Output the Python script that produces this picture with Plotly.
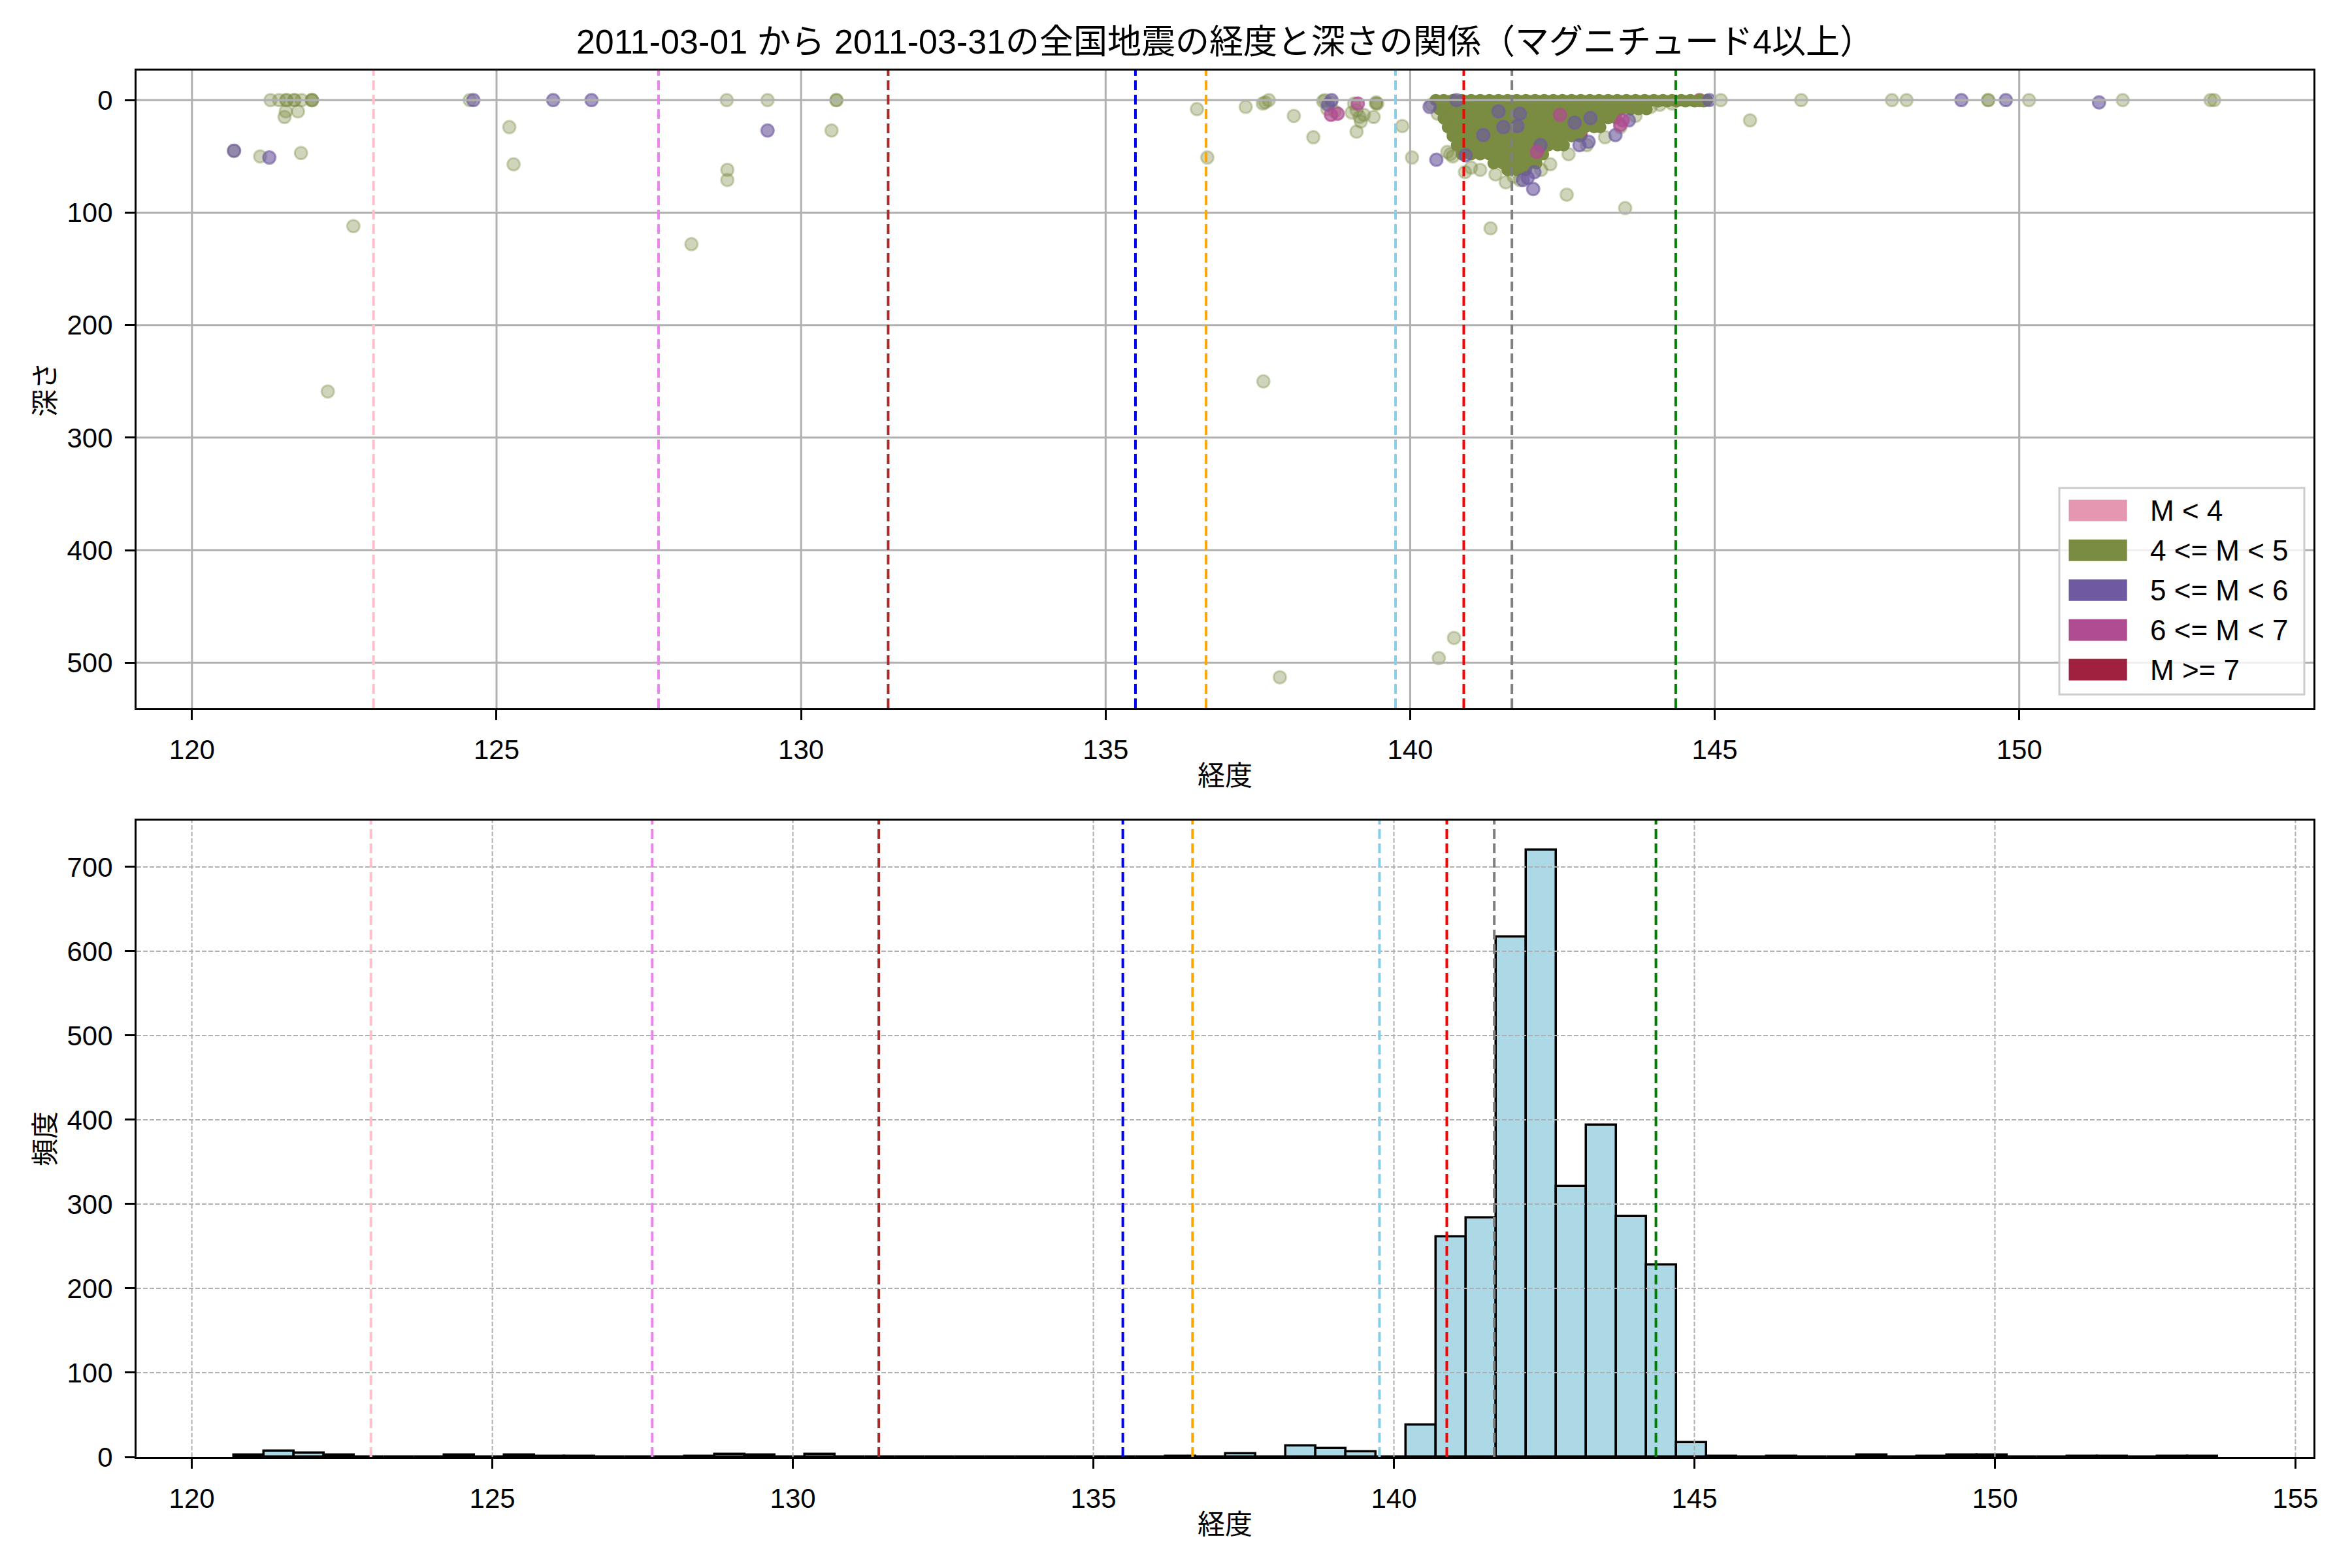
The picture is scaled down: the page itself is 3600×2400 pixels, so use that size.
import numpy as np
import plotly.graph_objects as go

TITLE = "2011-03-01 から 2011-03-31の全国地震の経度と深さの関係（マグニチュード4以上）"
X_LABEL = "経度"
Y_LABEL_TOP = "深さ"
Y_LABEL_BOTTOM = "頻度"

CATEGORY_LABELS = ["M < 4", "4 <= M < 5", "5 <= M < 6", "6 <= M < 7", "M >= 7"]
CATEGORY_COLORS = ["#E597B2", "#7A8B42", "#6E5AA0", "#B04C92", "#A02040"]

# reference longitudes (dashed vertical lines)
REF_LONS = [122.98, 127.66, 131.43, 135.49, 136.65, 139.76, 140.88, 141.67, 144.36]
REF_COLORS = ["#FFC0CB", "#EE82EE", "#A52A2A", "#0000FF", "#FFA500",
              "#87CEEB", "#FF0000", "#808080", "#008000"]

# ---- scatter data (longitude, depth) by magnitude class ----
lon_m3 = []
dep_m3 = []

lon_m4 = [121.29, 121.43, 121.55, 121.55, 121.68, 121.68, 121.80, 121.97, 121.97, 121.97,
          121.54, 121.52, 121.74, 120.69, 121.12, 121.79, 122.65, 122.23, 124.56, 125.21, 125.28,
          128.78, 129.45, 128.79, 128.79, 128.20, 130.58, 130.58, 130.50,
          136.50, 136.67, 137.30, 137.58, 137.62, 137.68, 138.09, 138.41, 138.60, 138.64, 138.76, 138.70,
          139.08, 139.12, 139.17, 139.19, 139.12, 139.24, 139.40, 139.44, 139.44, 138.57, 139.04, 139.46,
          137.59, 137.86, 140.72, 140.47, 139.87, 140.03,
          140.59, 140.69, 140.61, 140.70, 140.66, 140.90, 141.57, 141.80, 142.57, 143.53, 141.32, 145.58, 145.10,
          141.00, 141.15, 141.40, 142.30, 142.60, 142.90, 143.20, 143.45, 143.70, 143.95, 144.10, 144.30,
          140.45, 140.35, 141.70, 142.15,
          146.42, 147.91, 148.15, 149.49, 149.49, 150.16, 151.70, 153.14, 153.20]
dep_m4 = [0, 0, 0, 0, 0, 0, 0, 0, 0, 0,
          10, 15, 10, 45, 50, 47, 112, 259, 0, 24, 57,
          0, 0, 62, 71, 128, 0, 0, 27,
          8, 51, 6, 3, 2, 0, 14, 33, 0, 8, 10, 2,
          3, 9, 15, 19, 28, 13, 15, 3, 2, 1, 11, 3,
          250, 513, 478, 496, 23, 51,
          17, 27, 46, 50, 48, 64, 73, 71, 84, 96, 114, 18, 0,
          60, 62, 66, 57, 48, 40, 33, 24, 14, 6, 4, 3,
          12, 4, 68, 62,
          0, 0, 0, 0, 0, 0, 0, 0, 0]

# dense core of the 4 <= M < 5 cluster off Tohoku (read row by row)
core_dep_rows = [0, 1, 8, 16, 24, 32, 40, 48, 56, 62]
core_lon_rows = [
    [140.42, 140.55, 140.70, 140.85, 141.00, 141.15, 141.30, 141.45, 141.60, 141.75, 141.90, 142.05,
     142.20, 142.35, 142.50, 142.65, 142.80, 142.95, 143.10, 143.25, 143.40, 143.55, 143.70, 143.85,
     144.00, 144.15, 144.30, 144.45, 144.60, 144.75, 144.87],
    [140.48, 140.62, 140.77, 140.92, 141.07, 141.22, 141.37, 141.52, 141.67, 141.82, 141.97, 142.12,
     142.27, 142.42, 142.57, 142.72, 142.87, 143.02, 143.17, 143.32, 143.47, 143.62, 143.77, 143.92,
     144.07, 144.22, 144.37, 144.52, 144.67, 144.82],
    [140.48, 140.62, 140.77, 140.92, 141.07, 141.22, 141.37, 141.52, 141.67, 141.82, 141.97, 142.12,
     142.27, 142.42, 142.57, 142.72, 142.87, 143.02, 143.17, 143.32, 143.47, 143.62, 143.75, 143.88],
    [140.55, 140.70, 140.85, 141.00, 141.15, 141.30, 141.45, 141.60, 141.75, 141.90, 142.05, 142.20,
     142.35, 142.50, 142.65, 142.80, 142.95, 143.10, 143.25, 143.38],
    [140.62, 140.77, 140.92, 141.07, 141.22, 141.37, 141.52, 141.67, 141.82, 141.97, 142.12, 142.27,
     142.42, 142.57, 142.72, 142.87, 143.02, 143.12],
    [140.70, 140.85, 141.00, 141.15, 141.30, 141.45, 141.60, 141.75, 141.90, 142.05, 142.20, 142.35,
     142.50, 142.65, 142.78],
    [140.77, 140.92, 141.07, 141.22, 141.37, 141.52, 141.67, 141.82, 141.97, 142.12, 142.27, 142.42,
     142.52],
    [140.85, 141.00, 141.15, 141.30, 141.45, 141.60, 141.75, 141.90, 142.05, 142.18],
    [141.37, 141.52, 141.67, 141.82, 141.97, 142.07],
    [141.60, 141.75, 141.90],
]

lon_m5 = [120.69, 121.27, 124.62, 125.93, 126.56, 129.45,
          138.71, 138.65, 140.32, 140.43, 140.76, 140.91, 141.85, 141.93, 142.04, 142.02,
          142.78, 142.93, 143.37, 143.59, 142.96, 144.91, 141.80,
          141.20, 141.53, 141.76, 142.14, 141.45, 142.70,
          149.05, 149.78, 151.31]
dep_m5 = [45, 51, 0, 0, 0, 27,
          0, 4, 6, 53, 0, 49, 71, 69, 64, 79,
          40, 37, 31, 18, 16, 0, 12,
          31, 24, 23, 40, 10, 20,
          0, 0, 2]

lon_m6 = [138.81, 139.14, 138.70, 142.08, 142.46, 143.49, 143.45]
dep_m6 = [12, 3, 13, 46, 13, 18, 22]

lon_m7 = [142.80, 144.75, 143.28]
dep_m7 = [31, 0, 8]

# ---- histogram of longitude ----
BIN_START = 120.7
BIN_WIDTH = 0.5
hist_counts = [2, 7, 5, 2, 0, 0, 0, 2, 0, 2,
               1, 1, 0, 0, 0, 1, 3, 2, 0, 3,
               0, 0, 0, 0, 0, 0, 0, 0, 0, 0,
               0, 1, 0, 4, 0, 13, 10, 6, 0, 38,
               261, 284, 617, 720, 321, 394, 285, 228, 17, 1,
               0, 1, 0, 0, 2, 0, 1, 2, 2, 0,
               0, 1, 1, 0, 1, 1]

TOP_X_TICKS = [120, 125, 130, 135, 140, 145, 150]
TOP_Y_TICKS = [0, 100, 200, 300, 400, 500]
BOT_X_TICKS = [120, 125, 130, 135, 140, 145, 150, 155]
BOT_Y_TICKS = [0, 100, 200, 300, 400, 500, 600, 700]

# ---------------------------------------------------------------
FONT = "Liberation Sans, Noto Sans CJK JP, sans-serif"
PAGE_OFF = 8                      # default body margin of the html page
W, H = 3600 - PAGE_OFF, 2400 - PAGE_OFF
# target plot boxes in window pixels: x 209..3541, top y 108..1084, bottom y 1256..2230
ML, MT = 209 - PAGE_OFF, 108 - PAGE_OFF
MR = W - (3541 - PAGE_OFF)
MB = H - (2230 - PAGE_OFF)
PH = H - MT - MB
TOP_DOM = [(2230 - 1084) / PH, 1.0]
BOT_DOM = [0.0, (2230 - 1256) / PH]
PW = W - ML - MR
TOPH = 1084 - 108


def rgba(hexc, a):
    h = hexc.lstrip("#")
    return "rgba(%d,%d,%d,%.3f)" % (int(h[0:2], 16), int(h[2:4], 16), int(h[4:6], 16), a)


def scatter(lons, deps, color, alpha, lw=3):
    return go.Scatter(
        x=lons, y=deps, mode="markers", xaxis="x", yaxis="y", showlegend=False,
        hoverinfo="skip",
        marker=dict(size=19, color=rgba(color, alpha),
                    line=dict(color=rgba(color, alpha), width=lw)),
    )


fig = go.Figure()

core_lon = [v for row in core_lon_rows for v in row]
core_dep = [d for d, row in zip(core_dep_rows, core_lon_rows) for _ in row]

fig.add_trace(scatter(lon_m3, dep_m3, CATEGORY_COLORS[0], 0.4))
fig.add_trace(scatter(lon_m7, dep_m7, CATEGORY_COLORS[4], 0.6))
fig.add_trace(scatter(core_lon, core_dep, CATEGORY_COLORS[1], 1.0, lw=0))
fig.add_trace(scatter(lon_m4, dep_m4, CATEGORY_COLORS[1], 0.36))
fig.add_trace(scatter(lon_m5, dep_m5, CATEGORY_COLORS[2], 0.62))
fig.add_trace(scatter(lon_m6, dep_m6, CATEGORY_COLORS[3], 0.7))

centers = BIN_START + BIN_WIDTH * (np.arange(len(hist_counts)) + 0.5)
fig.add_trace(go.Bar(
    x=centers, y=hist_counts, width=BIN_WIDTH, xaxis="x2", yaxis="y2",
    showlegend=False, hoverinfo="skip",
    marker=dict(color="#ADD8E6", line=dict(color="black", width=3.5)),
))

axis_common = dict(
    showline=True, linecolor="black", linewidth=3, mirror=True,
    ticks="outside", ticklen=15, tickwidth=3, tickcolor="black",
    showgrid=False, zeroline=False,
    tickfont=dict(family=FONT, size=42, color="black"),
    ticklabelstandoff=10,
)

fig.update_layout(
    width=W, height=H,
    margin=dict(l=ML, r=MR, t=MT, b=MB, autoexpand=False),
    paper_bgcolor="white", plot_bgcolor="white",
    font=dict(family=FONT, size=42, color="black"),
    title=dict(text=TITLE, x=0.5, xref="paper", xanchor="center",
               y=1 - (64 - PAGE_OFF) / H, yref="container", yanchor="middle",
               font=dict(family=FONT, size=52, color="black")),
    showlegend=False,
    bargap=0,
    xaxis=dict(domain=[0, 1], anchor="y", range=[119.09, 154.83],
               tickvals=TOP_X_TICKS, **axis_common),
    yaxis=dict(domain=TOP_DOM, anchor="x", range=[540.5, -26.3],
               tickvals=TOP_Y_TICKS, **axis_common),
    xaxis2=dict(domain=[0, 1], anchor="y2", range=[119.08, 155.30],
                tickvals=BOT_X_TICKS, **axis_common),
    yaxis2=dict(domain=BOT_DOM, anchor="x2", range=[0, 755],
                tickvals=BOT_Y_TICKS, **axis_common),
)

shapes = []
# grid lines drawn above the marks (as in the reference)
for v in TOP_X_TICKS:
    shapes.append(dict(type="line", xref="x", yref="y domain", x0=v, x1=v, y0=0, y1=1,
                       line=dict(color="#b0b0b0", width=3), layer="above"))
for v in TOP_Y_TICKS:
    shapes.append(dict(type="line", xref="x domain", yref="y", x0=0, x1=1, y0=v, y1=v,
                       line=dict(color="#b0b0b0", width=3), layer="above"))
for v in BOT_X_TICKS:
    shapes.append(dict(type="line", xref="x2", yref="y2 domain", x0=v, x1=v, y0=0, y1=1,
                       line=dict(color="#b0b0b0", width=2, dash="7px,3px"), layer="above"))
for v in BOT_Y_TICKS[1:]:
    shapes.append(dict(type="line", xref="x2 domain", yref="y2", x0=0, x1=1, y0=v, y1=v,
                       line=dict(color="#b0b0b0", width=2, dash="7px,3px"), layer="above"))
# reference longitude lines
for lon, col in zip(REF_LONS, REF_COLORS):
    for xr, yr in (("x", "y domain"), ("x2", "y2 domain")):
        shapes.append(dict(type="line", xref=xr, yref=yr, x0=lon, x1=lon, y0=0, y1=1,
                           line=dict(color=col, width=4, dash="15px,7px"), layer="above"))


def dx(X):
    return (X - 209) / PW


def dy(Y):
    return (1084 - Y) / TOPH


# manual legend (patch style) in top panel
shapes.append(dict(type="rect", xref="x domain", yref="y domain",
                   x0=dx(3152), x1=dx(3527), y0=dy(1063), y1=dy(746.7),
                   fillcolor="rgba(255,255,255,0.8)", line=dict(color="#cccccc", width=3),
                   layer="above"))
row_centers = [781.3, 842.3, 903.3, 964.3, 1025.0]
annotations = []
for yc, col, lab in zip(row_centers, CATEGORY_COLORS, CATEGORY_LABELS):
    shapes.append(dict(type="rect", xref="x domain", yref="y domain",
                       x0=dx(3166.5), x1=dx(3255.7), y0=dy(yc + 16.5), y1=dy(yc - 16.5),
                       fillcolor=col, line=dict(width=0), layer="above"))
    annotations.append(dict(text=lab, xref="x domain", yref="y domain",
                            x=dx(3288.8), y=dy(yc), xanchor="left", yanchor="middle",
                            showarrow=False, font=dict(family=FONT, size=44, color="black")))

# axis titles
annotations += [
    dict(text=X_LABEL, xref="paper", yref="paper", x=0.5, y=TOP_DOM[0], yshift=-103,
         xanchor="center", yanchor="middle", showarrow=False,
         font=dict(family=FONT, size=42, color="black")),
    dict(text=X_LABEL, xref="paper", yref="paper", x=0.5, y=BOT_DOM[0], yshift=-103,
         xanchor="center", yanchor="middle", showarrow=False,
         font=dict(family=FONT, size=42, color="black")),
    dict(text=Y_LABEL_TOP, xref="paper", yref="paper", x=0, xshift=-140,
         y=(TOP_DOM[0] + TOP_DOM[1]) / 2, textangle=-90,
         xanchor="center", yanchor="middle", showarrow=False,
         font=dict(family=FONT, size=42, color="black")),
    dict(text=Y_LABEL_BOTTOM, xref="paper", yref="paper", x=0, xshift=-140,
         y=(BOT_DOM[0] + BOT_DOM[1]) / 2, textangle=-90,
         xanchor="center", yanchor="middle", showarrow=False,
         font=dict(family=FONT, size=42, color="black")),
]

fig.update_layout(shapes=shapes, annotations=annotations)
fig.write_html("out.html")
